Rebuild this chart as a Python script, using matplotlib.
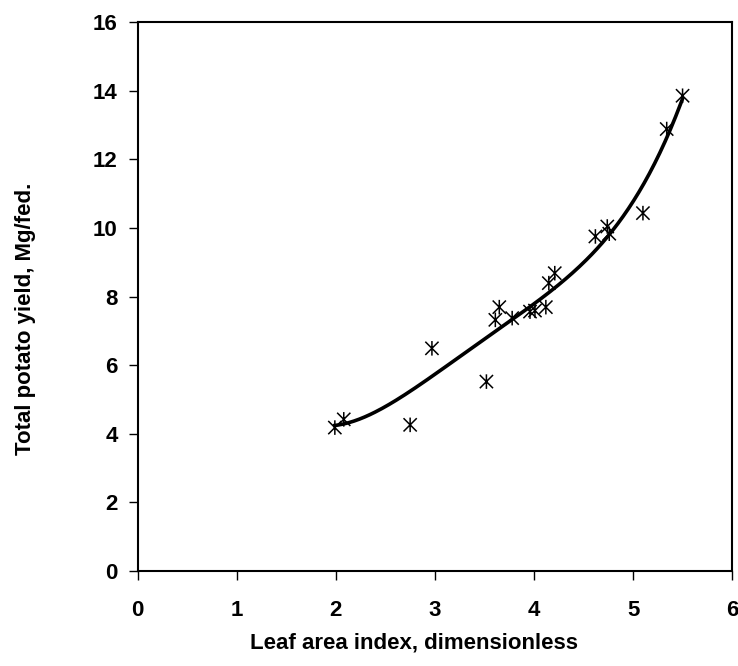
import numpy as np
import matplotlib
matplotlib.use("Agg")
import matplotlib.pyplot as plt
from matplotlib.path import Path

# leaf area index vs total potato yield
lai = [1.99, 2.08, 2.75, 2.97, 3.52, 3.61, 3.65, 3.78, 3.96, 4.01,
       4.12, 4.15, 4.21, 4.62, 4.74, 4.76, 5.10, 5.34, 5.50]
yield_mg = [4.18, 4.42, 4.26, 6.49, 5.52, 7.32, 7.69, 7.37, 7.56, 7.59,
            7.69, 8.39, 8.68, 9.75, 10.04, 9.83, 10.43, 12.88, 13.85]

# points along the fitted trend line
trend_lai = [2.0, 2.51, 3.26, 3.53, 3.78, 4.57, 5.01, 5.24, 5.48]
trend_yield = [4.2, 4.94, 6.15, 6.73, 7.37, 9.45, 10.62, 11.89, 13.73]

x_ticks = [0, 1, 2, 3, 4, 5, 6]
y_ticks = [0, 2, 4, 6, 8, 10, 12, 14, 16]

plt.rcParams['font.family'] = ['Liberation Sans', 'DejaVu Sans']
plt.rcParams['font.weight'] = 'bold'

# excel-style star: an x with a vertical bar through it
star = Path([(-1, -1), (1, 1), (-1, 1), (1, -1), (0, -1.1), (0, 1.1)],
            [Path.MOVETO, Path.LINETO, Path.MOVETO, Path.LINETO,
             Path.MOVETO, Path.LINETO])

fig = plt.figure(figsize=(7.38, 6.66), dpi=100)
ax = fig.add_axes([0.1866, 0.1426, 0.8054, 0.8244])

# smooth polynomial trend line
coef = np.polyfit(trend_lai, trend_yield, 4)
xs = np.linspace(min(lai), max(lai), 200)
ax.plot(xs, np.polyval(coef, xs), color='black', lw=2.6, zorder=2)

ax.scatter(lai, yield_mg, marker=star, s=110, facecolors='none',
           edgecolors='black', linewidths=1.1, zorder=3)

ax.set_xlim(0, 6)
ax.set_ylim(0, 16)
ax.set_xticks(x_ticks)
ax.set_yticks(y_ticks)
ax.tick_params(direction='out', length=6.5, width=1, labelsize=16)
ax.tick_params(axis='x', pad=14)
ax.tick_params(axis='y', pad=8)
for sp in ax.spines.values():
    sp.set_linewidth(1.5)

fig.text(0.561, 0.026, 'Leaf area index, dimensionless', ha='center',
         va='baseline', fontsize=16, fontweight='bold')
fig.text(0.034, 0.521, 'Total potato yield, Mg/fed.', ha='center',
         va='center', rotation=90, fontsize=16, fontweight='bold')

fig.savefig('out.png', dpi=100)
